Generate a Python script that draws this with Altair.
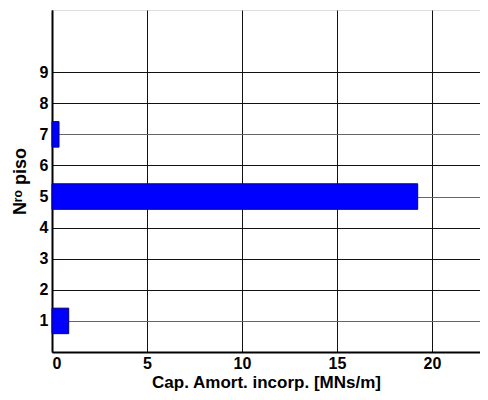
import altair as alt
import pandas as pd

pisos = [1, 5, 7]
valores = [0.88, 19.25, 0.37]
y_ticks = [1, 2, 3, 4, 5, 6, 7, 8, 9]
x_ticks = [0, 5, 10, 15, 20]

df = pd.DataFrame({"piso": pisos, "valor": valores})

FONT = "Liberation Sans"

bars = alt.Chart(df).transform_calculate(
    y0="datum.piso - 0.41", y1="datum.piso + 0.41", x0="0"
).mark_rect(color="#0000FF", stroke="#00007A", strokeWidth=1).encode(
    x=alt.X("x0:Q", scale=alt.Scale(domain=[0, 22.53], nice=False, zero=False),
            axis=alt.Axis(values=x_ticks, title="Cap. Amort. incorp. [MNs/m]",
                          grid=True, gridColor="#111", gridWidth=1,
                          domainColor="#000", domainWidth=2, tickColor="#000",
                          tickSize=0, labelPadding=3, labelFontSize=16,
                          labelFont=FONT, labelFontWeight="bold", labelColor="#000",
                          titleFont=FONT, titleFontSize=17, titleFontWeight="bold",
                          titleColor="#000", titlePadding=3)),
    x2="valor:Q",
    y=alt.Y("y0:Q", scale=alt.Scale(domain=[0, 11], nice=False, zero=False),
            axis=alt.Axis(values=y_ticks, title="Nʳᵒ piso",
                          grid=True,
                          gridColor=alt.expr("datum.value == 5 || datum.value == 7 || datum.value == 1 ? '#666' : '#111'"),
                          gridWidth=1,
                          domainColor="#000", domainWidth=2, tickSize=0,
                          labelPadding=4, labelFontSize=16, labelFont=FONT,
                          labelFontWeight="bold", labelColor="#000",
                          titleFont=FONT, titleFontSize=18, titleFontWeight="bold",
                          titleColor="#000", titlePadding=10)),
    y2="y1:Q",
)

chart = bars.properties(
    width=428, height=342,
    autosize=alt.AutoSizeParams(type="none"),
    padding={"left": 44, "top": 2, "right": 0, "bottom": 40},
).configure_view(stroke="#000", strokeWidth=1).configure(background="white")

chart.save("out.html", embed_options={"renderer": "svg", "actions": False})
